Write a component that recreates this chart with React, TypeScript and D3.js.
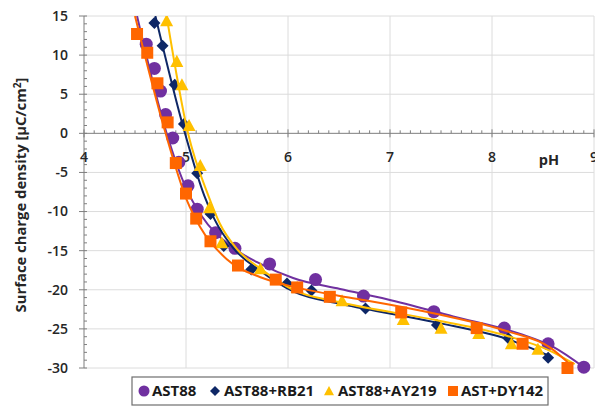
import React from "react";
import * as d3 from "d3";

// ---- data ----
const xTicks = [4, 5, 6, 7, 8, 9];
const yTicks = [15, 10, 5, 0, -5, -10, -15, -20, -25, -30];

const ast88Points: [number, number][] = [
  [4.61, 11.4], [4.69, 8.3], [4.75, 5.4], [4.8, 2.4], [4.87, -0.6], [4.93, -3.7],
  [5.02, -6.7], [5.11, -9.7], [5.29, -12.7], [5.48, -14.7], [5.82, -16.7], [6.27, -18.7],
  [6.74, -20.8], [7.43, -22.8], [8.12, -24.9], [8.55, -26.9], [8.9, -29.9],
];
const rb21Points: [number, number][] = [
  [4.69, 14.1], [4.77, 11.2], [4.89, 6.2], [4.98, 1.2], [5.11, -5.1], [5.24, -10.3],
  [5.37, -14.4], [5.64, -17.4], [5.99, -19.2], [6.23, -20.1], [6.76, -22.4], [7.46, -24.5],
  [8.16, -26.2], [8.55, -28.7],
];
const ay219Points: [number, number][] = [
  [4.81, 14.4], [4.91, 9.2], [4.96, 6.2], [5.03, 1.0], [5.14, -4.1], [5.23, -9.5],
  [5.35, -14.0], [5.73, -17.3], [6.09, -19.7], [6.53, -21.4], [7.13, -23.8], [7.5, -24.9],
  [7.87, -25.6], [8.19, -26.9], [8.45, -27.6],
];
const dy142Points: [number, number][] = [
  [4.52, 12.7], [4.62, 10.3], [4.72, 6.4], [4.82, 1.4], [4.9, -3.8], [5.0, -7.7],
  [5.1, -10.9], [5.24, -13.8], [5.51, -16.9], [5.88, -18.7], [6.09, -19.7], [6.41, -20.9],
  [7.11, -22.9], [7.85, -24.9], [8.3, -26.9], [8.74, -30.0],
];

// fitted trend curves
const ast88Fit: [number, number][] = [
  [4.52, 15], [4.81, 0], [5.0, -7], [5.15, -10.5], [5.46, -14.6], [5.73, -16.7], [6.05, -18.5],
  [6.51, -19.9], [6.97, -21.2], [7.62, -23.4], [8.27, -25.6], [8.6, -27.3], [8.9, -29.9],
];
const rb21Fit: [number, number][] = [
  [4.7, 15], [4.99, 0], [5.18, -8], [5.28, -11], [5.46, -14.6], [5.73, -17.6], [6.05, -20.2],
  [6.51, -21.8], [6.74, -22.4], [7.46, -24.2], [8.15, -26.3], [8.57, -28.5],
];
const ay219Fit: [number, number][] = [
  [4.81, 15], [5.02, 0], [5.22, -8], [5.33, -11.5], [5.5, -14.8], [5.73, -17.3], [6.05, -20.0],
  [6.51, -21.6], [7.46, -23.9], [8.15, -25.9], [8.57, -27.8], [8.81, -29.5],
];
const dy142Fit: [number, number][] = [
  [4.5, 15], [4.8, 0], [5.01, -8.6], [5.14, -12], [5.4, -16.1], [5.73, -18.4], [6.05, -19.6],
  [6.51, -20.8], [6.74, -21.3], [7.46, -23.1], [8.15, -25.3], [8.57, -27.4], [8.77, -29.6],
];

const seriesNames = ["AST88", "AST88+RB21", "AST88+AY219", "AST+DY142"];
const seriesColors = ["#7030A0", "#0E2766", "#FFC000", "#FF6600"];
const seriesShapes = ["circle", "diamond", "triangle", "square"];
const seriesPoints = [ast88Points, rb21Points, ay219Points, dy142Points];
const seriesFits = [ast88Fit, rb21Fit, ay219Fit, dy142Fit];

const W = 595;
const H = 407;
const FONT = "'Open Sans', 'DejaVu Sans', sans-serif";

function markerPath(shape: string, s: number): string {
  const h = s / 2;
  if (shape === "circle") {
    return `M${h},0A${h},${h} 0 1,1 ${-h},0A${h},${h} 0 1,1 ${h},0Z`;
  }
  if (shape === "diamond") {
    return `M0,${-h}L${h},0L0,${h}L${-h},0Z`;
  }
  if (shape === "triangle") {
    return `M0,${-h}L${h},${h * 0.85}L${-h},${h * 0.85}Z`;
  }
  return `M${-h},${-h}L${h},${-h}L${h},${h}L${-h},${h}Z`;
}

const markerSize: Record<string, number> = { circle: 13, diamond: 12, triangle: 13, square: 12 };

export default function App() {
  const left = 84;
  const right = 594;
  const top = 16;
  const bottom = 368;
  const x = d3.scaleLinear().domain([4, 9]).range([left, right]);
  const y = d3.scaleLinear().domain([15, -30]).range([top, bottom]);

  const line = d3
    .line<[number, number]>()
    .x((d) => x(d[0]))
    .y((d) => y(d[1]))
    .curve(d3.curveMonotoneX);

  const xMinor = d3.range(40, 91).map((v) => v / 10).filter((v) => Math.abs(v - Math.round(v)) > 1e-6);
  const yMinor = d3.range(-30, 16).filter((v) => v % 5 !== 0);

  const legendItems = [
    { mx: 144, tx: 152 },
    { mx: 215, tx: 224 },
    { mx: 329, tx: 338 },
    { mx: 453, tx: 461 },
  ];

  return (
    <svg
      width={W}
      height={H}
      style={{ position: "absolute", left: 0, top: 0, background: "#fff" }}
      fontFamily={FONT}
    >
      <defs>
        <clipPath id="plot">
          <rect x={left} y={top} width={right - left + 6} height={bottom - top + 6} />
        </clipPath>
      </defs>
      <rect x={0} y={0} width={W} height={H} fill="#fff" />

      {/* gridlines */}
      {xTicks.filter((t) => t !== 4).map((t) => (
        <line key={"gx" + t} x1={x(t)} x2={x(t)} y1={top} y2={bottom} stroke="#DCDCDC" strokeWidth={1} />
      ))}
      {yTicks.filter((t) => t !== 0).map((t) => (
        <line key={"gy" + t} x1={left} x2={right} y1={y(t)} y2={y(t)} stroke="#DCDCDC" strokeWidth={1} />
      ))}

      {/* y axis */}
      <line x1={left} x2={left} y1={top} y2={bottom} stroke="#7F7F7F" strokeWidth={1} />
      {yTicks.map((t) => (
        <line key={"yt" + t} x1={left - 5} x2={left + 3} y1={y(t)} y2={y(t)} stroke="#7F7F7F" />
      ))}
      {yMinor.map((t) => (
        <line key={"ym" + t} x1={left} x2={left + 3} y1={y(t)} y2={y(t)} stroke="#7F7F7F" />
      ))}
      {yTicks.map((t) => (
        <text
          key={"yl" + t}
          x={left - 16}
          y={y(t)}
          dy="0.35em"
          textAnchor="end"
          fontSize={14}
          fontWeight={600}
          fill="#262626"
        >
          {t}
        </text>
      ))}

      {/* x axis at 0 */}
      <line x1={left} x2={right} y1={y(0)} y2={y(0)} stroke="#7F7F7F" strokeWidth={1} />
      {xTicks.map((t) => (
        <line key={"xt" + t} x1={x(t)} x2={x(t)} y1={y(0) - 4} y2={y(0) + 4} stroke="#7F7F7F" />
      ))}
      {xMinor.map((t) => (
        <line key={"xm" + t} x1={x(t)} x2={x(t)} y1={y(0) - 3} y2={y(0)} stroke="#7F7F7F" />
      ))}
      {xTicks.map((t) => (
        <text
          key={"xl" + t}
          x={x(t)}
          y={y(0) + 29}
          textAnchor="middle"
          fontSize={14}
          fontWeight={600}
          fill="#262626"
        >
          {t}
        </text>
      ))}
      <text x={549} y={y(0) + 32} textAnchor="middle" fontSize={14.5} fontWeight={700} fill="#262626">
        pH
      </text>

      {/* y label */}
      <text
        transform={`translate(26,195) rotate(-90)`}
        textAnchor="middle"
        fontSize={14.8}
        fontWeight={700}
        fill="#262626"
      >
        Surface charge density [μC/cm<tspan dy={-5} fontSize={10}>2</tspan><tspan dy={5}>]</tspan>
      </text>

      {/* series */}
      <g clipPath="url(#plot)">
        {seriesNames.map((name, i) => (
          <g key={name}>
            <path d={line(seriesFits[i]) || ""} fill="none" stroke={seriesColors[i]} strokeWidth={2} />
            {seriesPoints[i].map((p, j) => (
              <path
                key={j}
                transform={`translate(${x(p[0])},${y(p[1])})`}
                d={markerPath(seriesShapes[i], markerSize[seriesShapes[i]])}
                fill={seriesColors[i]}
              />
            ))}
          </g>
        ))}
      </g>

      {/* legend */}
      <rect x={132} y={377} width={416} height={28} fill="#fff" stroke="#6E6E6E" strokeWidth={1.2} />
      {seriesNames.map((name, i) => (
        <g key={"lg" + name}>
          <path
            transform={`translate(${legendItems[i].mx},391)`}
            d={markerPath(seriesShapes[i], seriesShapes[i] === "circle" ? 11 : 10)}
            fill={seriesColors[i]}
          />
          <text x={legendItems[i].tx} y={391} dy="0.36em" fontSize={15} fontWeight={700} fill="#1a1a1a">
            {name}
          </text>
        </g>
      ))}
    </svg>
  );
}
